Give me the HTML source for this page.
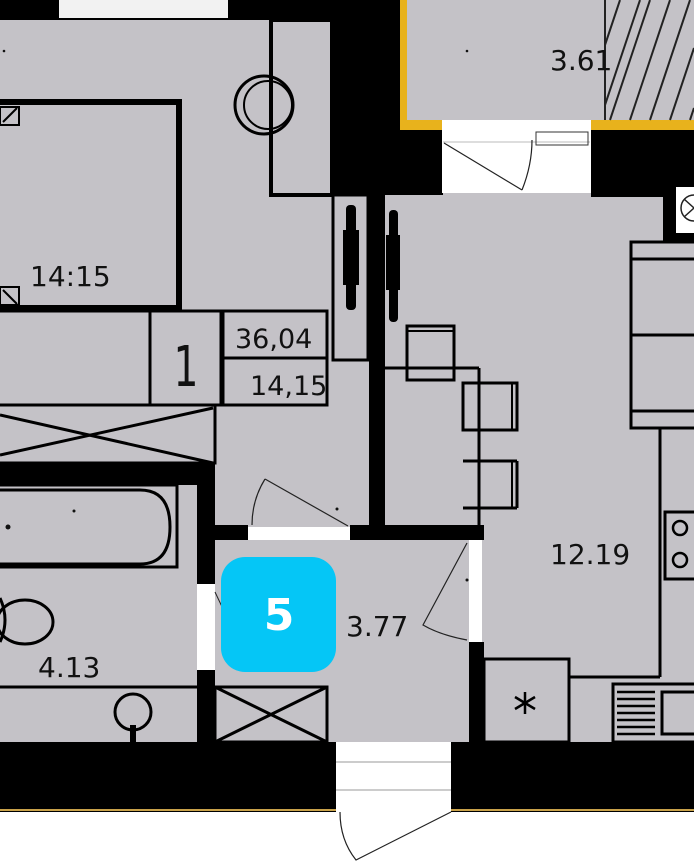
<!DOCTYPE html>
<html><head><meta charset="utf-8"><style>
html,body{margin:0;padding:0;background:#fff}
svg{display:block}
text{font-family:"DejaVu Sans","Liberation Sans",sans-serif;fill:#111}
</style></head><body>
<svg width="694" height="864" viewBox="0 0 694 864" xmlns="http://www.w3.org/2000/svg">
<rect x="0" y="0" width="694" height="812" fill="#c4c2c7"/>
<rect x="0" y="812" width="694" height="52" fill="#fff"/>
<rect x="0" y="0" width="336" height="20" fill="#000"/>
<rect x="59" y="0" width="169" height="18" fill="#f2f2f2"/>
<rect x="332" y="0" width="70" height="195" fill="#000"/>
<rect x="400" y="0" width="7" height="130" fill="#e8b21c"/>
<rect x="400" y="120" width="42" height="10" fill="#e8b21c"/>
<rect x="591" y="120" width="103" height="10" fill="#e8b21c"/>
<rect x="402" y="130" width="41" height="65" fill="#000"/>
<rect x="407" y="0" width="287" height="120" fill="#c4c2c7"/>
<g stroke="#222" stroke-width="2">
<line x1="605" y1="0" x2="605" y2="120"/>
<line x1="610" y1="120" x2="650" y2="0"/><line x1="630" y1="120" x2="670" y2="0"/><line x1="650" y1="120" x2="690" y2="0"/><line x1="670" y1="120" x2="694" y2="48"/><line x1="690" y1="120" x2="694" y2="108"/><line x1="605" y1="105" x2="640" y2="0"/><line x1="605" y1="45" x2="620" y2="0"/>
</g>
<text x="550" y="70" font-size="28">3.61</text>
<circle cx="467" cy="51" r="1.3" fill="#111"/>
<circle cx="4" cy="51" r="1.3" fill="#111"/>
<rect x="442" y="120" width="149" height="73" fill="#fff"/>
<line x1="443" y1="142" x2="590" y2="142" stroke="#bbb" stroke-width="1"/>
<rect x="536" y="132" width="52" height="13" fill="none" stroke="#333" stroke-width="1"/>
<line x1="444" y1="143" x2="522" y2="190" stroke="#222" stroke-width="1.2"/>
<path d="M522 190 Q532 165 532 140" fill="none" stroke="#222" stroke-width="1.2"/>
<rect x="591" y="130" width="103" height="67" fill="#000"/>
<rect x="663" y="193" width="31" height="48" fill="#000"/>
<rect x="676" y="187" width="18" height="46" fill="#fff"/>
<circle cx="694" cy="208" r="13" fill="none" stroke="#222" stroke-width="1.5"/>
<line x1="684" y1="199" x2="694" y2="208" stroke="#222" stroke-width="1.5"/><line x1="684" y1="217" x2="694" y2="208" stroke="#222" stroke-width="1.5"/>
<rect x="271" y="20" width="61" height="175" fill="none" stroke="#000" stroke-width="4"/>
<circle cx="264" cy="105" r="29" fill="none" stroke="#000" stroke-width="3"/>
<circle cx="268" cy="105" r="24" fill="none" stroke="#000" stroke-width="2"/>
<rect x="-4" y="102" width="183" height="206" fill="none" stroke="#000" stroke-width="6"/>
<rect x="0" y="107" width="19" height="18" fill="none" stroke="#000" stroke-width="2"/><line x1="3" y1="122" x2="17" y2="108" stroke="#000" stroke-width="2"/>
<rect x="0" y="287" width="19" height="18" fill="none" stroke="#000" stroke-width="2"/><line x1="3" y1="290" x2="17" y2="304" stroke="#000" stroke-width="2"/>
<text x="30" y="286" font-size="28">14:15</text>
<line x1="0" y1="311" x2="328" y2="311" stroke="#000" stroke-width="3"/>
<rect x="150" y="311" width="71" height="94" fill="none" stroke="#000" stroke-width="3"/>
<rect x="223" y="311" width="104" height="47" fill="none" stroke="#000" stroke-width="3"/>
<rect x="223" y="358" width="104" height="47" fill="none" stroke="#000" stroke-width="3"/>
<text x="186" y="386" font-size="56" text-anchor="middle" transform="translate(186 0) scale(0.7 1) translate(-186 0)">1</text>
<text x="235" y="348" font-size="27">36,04</text>
<text x="250" y="395" font-size="27">14,15</text>
<line x1="0" y1="405" x2="221" y2="405" stroke="#000" stroke-width="3"/>
<rect x="-3" y="405" width="218" height="58" fill="none" stroke="#000" stroke-width="3"/>
<line x1="0" y1="415" x2="213" y2="463" stroke="#000" stroke-width="3"/><line x1="0" y1="455" x2="213" y2="408" stroke="#000" stroke-width="3"/>
<rect x="0" y="463" width="215" height="22" fill="#000"/>
<rect x="197" y="463" width="18" height="121" fill="#000"/>
<rect x="197" y="670" width="18" height="72" fill="#000"/>
<rect x="197" y="584" width="18" height="86" fill="#fff"/>
<path d="M215 592 L233 630" stroke="#222" stroke-width="1" fill="none"/>
<rect x="-3" y="485" width="180" height="82" fill="none" stroke="#000" stroke-width="3"/>
<path d="M-3 490 L140 490 Q170 490 170 527 Q170 564 140 564 L-3 564" fill="none" stroke="#000" stroke-width="3"/>
<circle cx="8" cy="527" r="2.5" fill="#111"/><circle cx="74" cy="511" r="1.5" fill="#111"/>
<ellipse cx="25" cy="622" rx="28" ry="22" fill="none" stroke="#000" stroke-width="3"/>
<path d="M0 598 Q10 620 0 642" fill="none" stroke="#000" stroke-width="3"/>
<text x="38" y="677" font-size="28">4.13</text>
<line x1="0" y1="687" x2="197" y2="687" stroke="#000" stroke-width="3"/>
<circle cx="133" cy="712" r="18" fill="none" stroke="#000" stroke-width="3"/>
<rect x="130" y="725" width="6" height="17" fill="#000"/>
<rect x="215" y="687" width="112" height="55" fill="none" stroke="#000" stroke-width="3"/>
<line x1="215" y1="687" x2="327" y2="742" stroke="#000" stroke-width="3"/><line x1="215" y1="742" x2="327" y2="687" stroke="#000" stroke-width="3"/>
<rect x="333" y="195" width="35" height="165" fill="none" stroke="#000" stroke-width="3"/>
<rect x="369" y="193" width="16" height="332" fill="#000"/>
<rect x="346" y="205" width="10" height="105" rx="4" fill="#000"/>
<rect x="343" y="230" width="16" height="55" fill="#000"/>
<rect x="389" y="210" width="9" height="112" rx="4" fill="#000"/>
<rect x="386" y="235" width="14" height="55" fill="#000"/>
<rect x="215" y="525" width="33" height="15" fill="#000"/>
<rect x="248" y="527" width="102" height="13" fill="#fff"/>
<rect x="350" y="525" width="134" height="15" fill="#000"/>
<path d="M265 479 L348 526" stroke="#222" stroke-width="1.2" fill="none"/>
<path d="M265 479 Q252 500 252 525" stroke="#222" stroke-width="1.2" fill="none"/>
<circle cx="337" cy="509" r="1.5" fill="#111"/>
<rect x="469" y="540" width="13" height="102" fill="#fff"/>
<rect x="469" y="642" width="15" height="100" fill="#000"/>
<path d="M467 543 L423 625 Q440 635 467 640" stroke="#222" stroke-width="1.2" fill="none"/>
<circle cx="467" cy="580" r="1.5" fill="#111"/>
<rect x="221" y="557" width="115" height="115" rx="24" fill="#05c6f6"/>
<text x="279" y="630" font-size="44" font-weight="bold" text-anchor="middle" style="fill:#fff">5</text>
<text x="346" y="636" font-size="28">3.77</text>
<rect x="380" y="193" width="5" height="332" fill="#000"/>
<line x1="385" y1="368" x2="479" y2="368" stroke="#000" stroke-width="3"/>
<line x1="479" y1="368" x2="479" y2="525" stroke="#000" stroke-width="3"/>
<rect x="407" y="326" width="47" height="54" fill="none" stroke="#000" stroke-width="3"/><line x1="407" y1="331" x2="454" y2="331" stroke="#000" stroke-width="2"/>
<rect x="463" y="383" width="54" height="47" fill="none" stroke="#000" stroke-width="3"/><line x1="512" y1="383" x2="512" y2="430" stroke="#000" stroke-width="2"/>
<line x1="463" y1="461" x2="517" y2="461" stroke="#000" stroke-width="3"/><line x1="463" y1="508" x2="517" y2="508" stroke="#000" stroke-width="3"/><line x1="517" y1="461" x2="517" y2="508" stroke="#000" stroke-width="3"/><line x1="512" y1="461" x2="512" y2="508" stroke="#000" stroke-width="2"/>
<rect x="631" y="242" width="70" height="186" fill="none" stroke="#000" stroke-width="3"/>
<line x1="631" y1="259" x2="694" y2="259" stroke="#000" stroke-width="3"/>
<line x1="631" y1="335" x2="694" y2="335" stroke="#000" stroke-width="3"/>
<line x1="631" y1="411" x2="694" y2="411" stroke="#000" stroke-width="3"/>
<line x1="660" y1="428" x2="660" y2="677" stroke="#000" stroke-width="3"/>
<rect x="665" y="512" width="35" height="67" fill="none" stroke="#000" stroke-width="3"/>
<circle cx="680" cy="528" r="7" fill="none" stroke="#000" stroke-width="2.5"/><circle cx="680" cy="560" r="7" fill="none" stroke="#000" stroke-width="2.5"/>
<text x="550" y="564" font-size="28">12.19</text>
<rect x="484" y="659" width="85" height="83" fill="none" stroke="#000" stroke-width="3"/>
<g stroke="#000" stroke-width="2.5"><line x1="525" y1="692" x2="525" y2="714"/><line x1="515" y1="697" x2="535" y2="709"/><line x1="515" y1="709" x2="535" y2="697"/></g>
<line x1="569" y1="677" x2="660" y2="677" stroke="#000" stroke-width="3"/>
<rect x="613" y="684" width="90" height="58" fill="none" stroke="#000" stroke-width="3"/>
<g stroke="#000" stroke-width="2.5"><line x1="617" y1="692" x2="655" y2="692"/><line x1="617" y1="699" x2="655" y2="699"/><line x1="617" y1="706" x2="655" y2="706"/><line x1="617" y1="713" x2="655" y2="713"/><line x1="617" y1="720" x2="655" y2="720"/><line x1="617" y1="727" x2="655" y2="727"/><line x1="617" y1="734" x2="655" y2="734"/></g>
<rect x="662" y="692" width="40" height="42" fill="none" stroke="#000" stroke-width="3"/>
<rect x="0" y="742" width="336" height="70" fill="#000"/>
<rect x="451" y="742" width="243" height="70" fill="#000"/>
<rect x="0" y="809" width="336" height="2" fill="#c9a24a"/>
<rect x="451" y="809" width="243" height="2" fill="#c9a24a"/>
<rect x="336" y="742" width="115" height="70" fill="#fff"/>
<line x1="336" y1="762" x2="451" y2="762" stroke="#999" stroke-width="1"/>
<line x1="336" y1="790" x2="451" y2="790" stroke="#999" stroke-width="1"/>
<path d="M451 812 L356 860 Q340 840 340 812" stroke="#222" stroke-width="1.2" fill="none"/>
</svg>
</body></html>
